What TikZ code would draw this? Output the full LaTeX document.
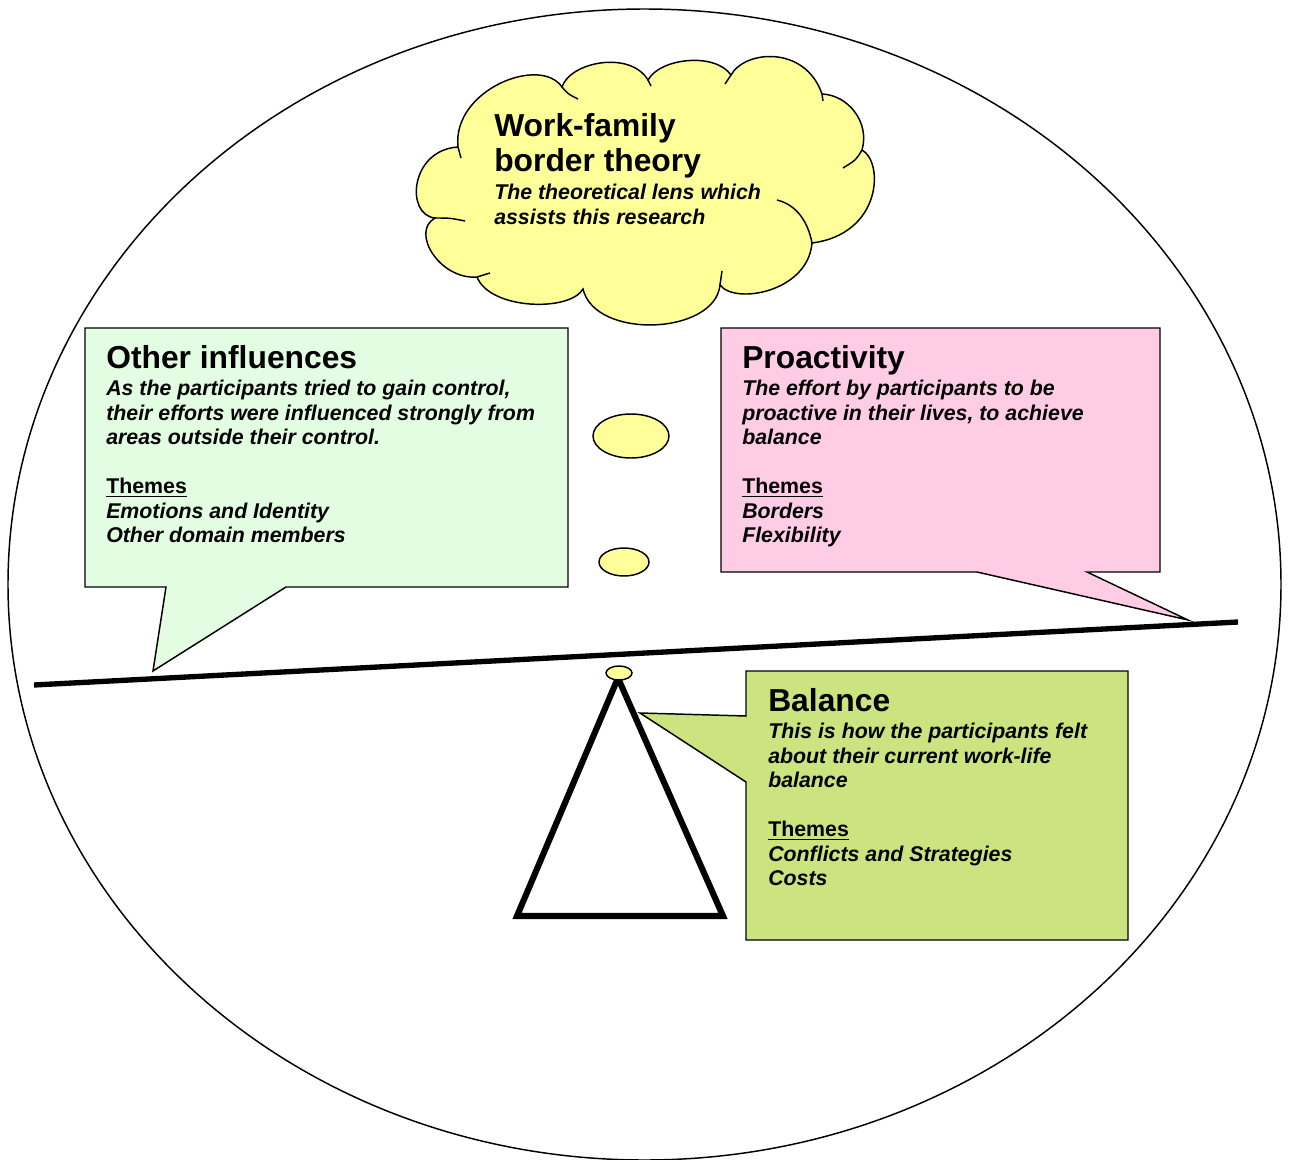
\documentclass[tikz,border=0pt]{standalone}
\usepackage{fontspec}
\setmainfont{Liberation Sans}
\definecolor{cloudY}{RGB}{255,255,153}
\definecolor{leftG}{RGB}{226,253,226}
\definecolor{pinkP}{RGB}{255,204,230}
\definecolor{balG}{RGB}{204,228,128}
\newcommand{\thm}{\setbox0\hbox{\upshape Themes}\rlap{\rule[-2.8pt]{\wd0}{1.3pt}}\box0}
\begin{document}
\begin{tikzpicture}[x=0.75pt,y=-0.75pt,
  outl/.style={draw=black,line width=1.1pt,line join=miter},
  thin/.style={line width=1.1pt},
  ttl/.style={anchor=base west,inner sep=0pt,align=left,font=\fontsize{23.85pt}{26.25pt}\selectfont\bfseries},
  bdy/.style={anchor=base west,inner sep=0pt,align=left,font=\fontsize{16pt}{18.4pt}\selectfont\bfseries\itshape}]
\useasboundingbox (0,0) rectangle (1290,1160);
% outer ellipse
\draw[thin] (644.5,584.5) ellipse [x radius=636.5, y radius=575.5];
% cloud
\path[fill=cloudY, draw, thin] (458,147) .. controls (452,90) and (540,55) .. (562,87)
 .. controls (570,62) and (630,50) .. (648,80)
 .. controls (660,58) and (715,52) .. (731,75)
 .. controls (745,50) and (805,45) .. (822,94)
 .. controls (848,95) and (870,122) .. (862,150)
 .. controls (884,162) and (882,234) .. (812,243)
 .. controls (808,292) and (735,305) .. (720,285)
 .. controls (715,335) and (595,340) .. (583,289)
 .. controls (570,312) and (490,310) .. (477,277)
 .. controls (440,280) and (410,232) .. (435,218)
 .. controls (405,215) and (410,150) .. (458,147) -- cycle;
\draw[thin] (458,147) -- (461,158);
\draw[thin] (562,87) .. controls (568,94) .. (578,99);
\draw[thin] (648,80) -- (651,86);
\draw[thin] (731,75) -- (725,84);
\draw[thin] (822,94) -- (823,101);
\draw[thin] (862,150) .. controls (856,160) .. (843,168);
\draw[thin] (812,243) .. controls (808,222) and (797,205) .. (777,200);
\draw[thin] (720,285) -- (722,271);
\draw[thin] (477,277) -- (490,273);
\draw[thin] (435,218) .. controls (450,218) .. (465,221);
% thought bubbles
\draw[thin, fill=cloudY] (631,436) ellipse [x radius=38, y radius=22];
\draw[thin, fill=cloudY] (624,562) ellipse [x radius=25, y radius=14];
% callouts
\draw[outl, fill=leftG] (85,328) -- (568,328) -- (568,587) -- (286,587) -- (153,671) -- (166,587) -- (85,587) -- cycle;
\draw[outl, fill=pinkP] (721,328) -- (1160,328) -- (1160,572) -- (1087,572) -- (1188,620) -- (977,572) -- (721,572) -- cycle;
% beam
\draw[line width=4pt] (34,685) -- (1238,622);
% fulcrum
\draw[line width=4.6pt, line join=miter] (618,678) -- (723,916) -- (517,916) -- cycle;
\draw[outl, fill=balG] (746,671) -- (1128,671) -- (1128,940) -- (746,940) -- (746,782) -- (640,713) -- (746,716) -- cycle;
\draw[thin, fill=cloudY] (619,673) ellipse [x radius=13, y radius=7];
% texts (anchored at the baseline of their last line)
\node[ttl] (wft) at (494,171.5) {Work-family\\border theory};
\node[bdy] (wfs) at (494,224) {The theoretical lens which\\assists this research};
\node[ttl] (oit) at (106,368) {Other influences};
\node[bdy] (oib) at (106,542.7) {As the participants tried to gain control,\\their efforts were influenced strongly from\\areas outside their control.\\[18.4pt]\thm\\Emotions and Identity\\Other domain members};
\node[ttl] (prt) at (742,368) {Proactivity};
\node[bdy] (prb) at (742,542.7) {The effort by participants to be\\proactive in their lives, to achieve\\balance\\[18.4pt]\thm\\Borders\\Flexibility};
\node[ttl] (bat) at (768,711) {Balance};
\node[bdy] (bab) at (768,885.7) {This is how the participants felt\\about their current work-life\\balance\\[18.4pt]\thm\\Conflicts and Strategies\\Costs};
\end{tikzpicture}
\end{document}
